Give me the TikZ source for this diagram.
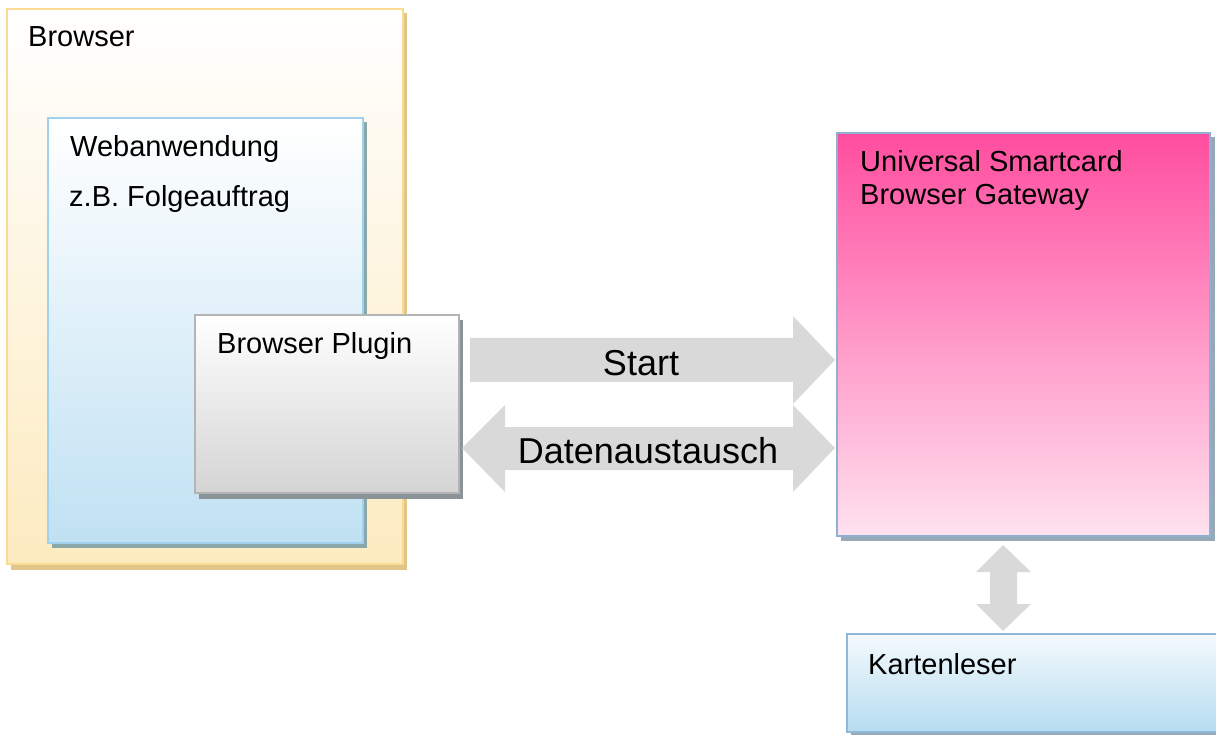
\documentclass[tikz,border=0pt]{standalone}
\usepackage{fontspec}
\setmainfont{Liberation Sans}
\begin{document}
\begin{tikzpicture}[x=1pt,y=-1pt,
  lbl/.style={anchor=base west,inner sep=0pt,font=\fontsize{29}{33}\selectfont},
  big/.style={anchor=base,inner sep=0pt,font=\fontsize{36}{40}\selectfont},
  boxshape/.style={line width=2pt},
  blockarrow/.style={fill=arrowgray,draw=none}]
\definecolor{arrowgray}{HTML}{D9D9D9}
\definecolor{brBorder}{HTML}{FBDB92}
\definecolor{brTop}{HTML}{FFFFFF}
\definecolor{brBot}{HTML}{FDEBC0}
\definecolor{brShadow}{HTML}{E2C588}
\definecolor{webBorder}{HTML}{A0D2EE}
\definecolor{webBot}{HTML}{C0E1F3}
\definecolor{webShadow}{HTML}{8AA8AA}
\definecolor{plBorder}{HTML}{B4B4B4}
\definecolor{plBot}{HTML}{D4D4D4}
\definecolor{plShadow}{HTML}{8A9398}
\definecolor{gwBorder}{HTML}{8FB0D0}
\definecolor{gwTop}{HTML}{FF4D9F}
\definecolor{gwBot}{HTML}{FFE2EF}
\definecolor{gwShadow}{HTML}{97A8B6}
\definecolor{krTop}{HTML}{F4FAFD}
\definecolor{krBot}{HTML}{B6DCF0}
\definecolor{krBorder}{HTML}{8FB8D8}

\useasboundingbox (0,0) rectangle (1216,735);

% Browser
\fill[brShadow] (11,13) rectangle (407,570);
\draw[boxshape,draw=brBorder,top color=brTop,bottom color=brBot] (7,9) rectangle (403,564);
\coordinate (browserbox) at (7,9);
\node[lbl] (browser) at (28,47) {Browser};

% Webanwendung
\fill[webShadow] (52,122) rectangle (367,548);
\draw[boxshape,draw=webBorder,top color=white,bottom color=webBot] (48,118) rectangle (363,543);
\node[lbl] (web) at (70,157) {Webanwendung};
\node[lbl] (zb) at (69,207) {z.B. Folgeauftrag};

% Browser Plugin
\fill[plShadow] (199,320) rectangle (463,499);
\draw[boxshape,draw=plBorder,top color=white,bottom color=plBot] (195,315) rectangle (459,493);
\node[lbl] (plugin) at (217,354) {Browser Plugin};

% Gateway
\fill[gwShadow] (841,137) rectangle (1215,541);
\draw[boxshape,draw=gwBorder,top color=gwTop,bottom color=gwBot] (837,133) rectangle (1210,536);
\node[lbl] (gw1) at (860,172) {Universal Smartcard};
\node[lbl] (gw2) at (860,205) {Browser Gateway};

% Kartenleser
\fill[gwShadow] (851,638) rectangle (1222,737);
\draw[boxshape,draw=krBorder,top color=krTop,bottom color=krBot] (847,634) rectangle (1218,732);
\node[lbl] (karten) at (868,674) {Kartenleser};

% Start arrow
\fill[blockarrow] (470,338) -- (793,338) -- (793,316) -- (835,360) -- (793,404)
  -- (793,382) -- (470,382) -- cycle;
\node[big] (start) at (641,375) {Start};

% Datenaustausch double arrow
\fill[blockarrow] (462,448) -- (505,405) -- (505,427) -- (793,427) -- (793,405)
  -- (835,448) -- (793,492) -- (793,470) -- (505,470) -- (505,492) -- cycle;
\node[big] (daten) at (648,463) {Datenaustausch};

% vertical double arrow
\fill[blockarrow] (1003,545) -- (1031,572) -- (1017,572) -- (1017,604) -- (1031,604)
  -- (1003,631) -- (976,604) -- (990,604) -- (990,572) -- (976,572) -- cycle;
\end{tikzpicture}
\end{document}
